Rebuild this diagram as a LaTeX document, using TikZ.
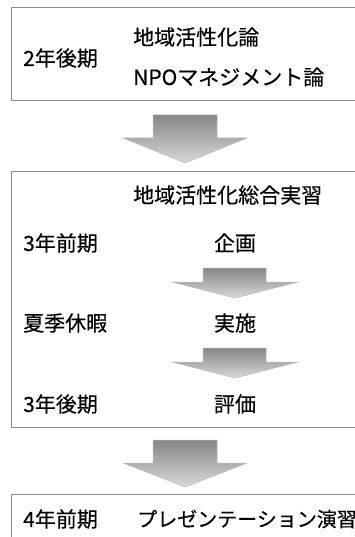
\documentclass[tikz,border=0pt]{standalone}
\usepackage{fontspec}
\setmainfont{Noto Sans CJK JP}[FakeBold=0.4]
\begin{document}
\begin{tikzpicture}[x=1pt,y=-1pt,
  box/.style={draw=gray!90, line width=0.8pt, anchor=north west, inner sep=0pt, minimum width=360pt},
  lbl/.style={anchor=west, inner sep=0pt, font=\fontsize{21}{24}\selectfont},
  mid/.style={anchor=center, inner sep=0pt, font=\fontsize{21}{24}\selectfont},
  blk/.style={draw=gray!55, line width=0.5pt, top color=gray!95, bottom color=gray!30}]
\useasboundingbox (0,0) rectangle (355,537);
\clip (0,0) rectangle (355,537);
% boxes
\node[box, minimum height=93pt] (b1) at (11,7) {};
\node[box, minimum height=256pt] (b2) at (11,171) {};
\node[box, minimum height=60pt] (b3) at (11,494) {};
% box 1 texts
\node[lbl] (t2k) at (23,58) {2年後期};
\node[lbl] (c1) at (133,37) {地域活性化論};
\node[lbl] (c2) at (133,77) {NPOマネジメント論};
% box 2 texts
\node[lbl] (c3) at (133,195) {地域活性化総合実習};
\node[lbl] (t3z) at (23,243) {3年前期};
\node[mid] (s1) at (235,243) {企画};
\node[lbl] (tka) at (23,323) {夏季休暇};
\node[mid] (s2) at (235,323) {実施};
\node[lbl] (t3k) at (23,404) {3年後期};
\node[mid] (s3) at (235,404) {評価};
% box 3 texts
\node[lbl] (t4z) at (23,519) {4年前期};
\node[lbl, font=\fontsize{20}{24}\selectfont] (c4) at (137,519) {プレゼンテーション演習};
% block arrows
\path[blk] (153,115) -- (217,115) -- (217,138) -- (247,138) -- (185,163) -- (123,138) -- (153,138) -- cycle;
\path[blk] (203,268) -- (266,268) -- (266,282) -- (298,282) -- (235,298) -- (172,282) -- (203,282) -- cycle;
\path[blk] (203,348) -- (266,348) -- (266,362) -- (298,362) -- (235,378) -- (172,362) -- (203,362) -- cycle;
\path[blk] (153,440) -- (217,440) -- (217,463) -- (247,463) -- (185,487) -- (123,463) -- (153,463) -- cycle;
\end{tikzpicture}
\end{document}
